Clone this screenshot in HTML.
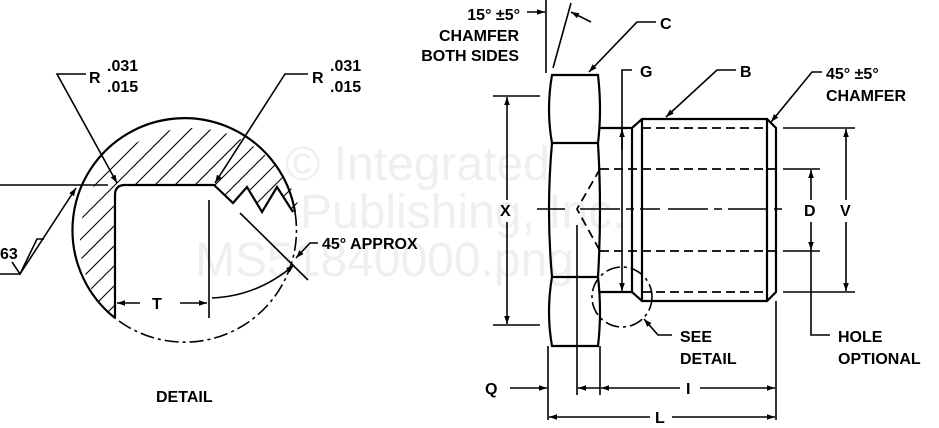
<!DOCTYPE html>
<html><head><meta charset="utf-8"><style>
body{margin:0;background:#fff}
svg{display:block}
text{font-family:"Liberation Sans",sans-serif;font-weight:bold;font-size:16px;fill:#000}
</style></head><body>
<svg width="939" height="428" viewBox="0 0 939 428" xmlns="http://www.w3.org/2000/svg">
<defs>
<marker id="a" viewBox="0 0 10 10" refX="10" refY="5" markerWidth="12" markerHeight="8" markerUnits="userSpaceOnUse" orient="auto"><path d="M0,1.5 L10,5 L0,8.5 z" fill="#000"/></marker>
<clipPath id="cc"><circle cx="192" cy="240" r="112"/></clipPath>
<clipPath id="hc"><path d="M60,120 H330 V212 L293,212 L277,187 L262,212 L247,187 L233,203 L214,185 H125 Q115,185 115,195 V330 H60 Z"/></clipPath>
</defs>
<!-- watermark -->
<text x="285" y="180" style="font-weight:normal;font-size:48px;fill:#efefef">© Integrated</text>
<text x="300" y="228" style="font-weight:normal;font-size:48px;fill:#efefef">Publishing, Inc.</text>
<text x="195" y="276" style="font-weight:normal;font-size:48px;fill:#efefef">MS51840000.png</text>
<g fill="none" stroke="#000" stroke-width="1.6">
<!-- DETAIL -->
<g clip-path="url(#hc)"><g clip-path="url(#cc)" stroke-width="1.1">
<path d="M-160,340 L60,120 M-140,340 L80,120 M-120,340 L100,120 M-100,340 L120,120 M-80,340 L140,120 M-60,340 L160,120 M-40,340 L180,120 M-20,340 L200,120 M0,340 L220,120 M20,340 L240,120 M40,340 L260,120 M60,340 L280,120 M80,340 L300,120 M100,340 L320,120 M120,340 L340,120 M140,340 L360,120 M160,340 L380,120"/>
</g></g>
<path d="M115,318 A112,112 0 1 1 295,212" stroke-width="2.2"/>
<path d="M295,212 A112,112 0 0 1 115,318" stroke-dasharray="14,4,3,4"/>
<path d="M115,318 V195 Q115,185 125,185 H214 L233,203 L247,187 L262,212 L277,187 L293,212" stroke-width="2.2"/>
<path d="M0,185 H108"/>
<path d="M20,274 L76,188" marker-end="url(#a)"/>
<path d="M0,274 H20 M12,262 L20,274 L37,239 H44"/>
<path d="M86,74 H57 L117,183" marker-end="url(#a)"/>
<path d="M308,74 H285 L215,183" marker-end="url(#a)"/>
<path d="M209,200 V318 M240,213 L308,280"/>
<path d="M140,303 H117" marker-end="url(#a)"/>
<path d="M180,303 H207" marker-end="url(#a)"/>
<path d="M212,298 Q258,296 294,265" marker-end="url(#a)"/>
<path d="M318,243 H310 L296,258" marker-end="url(#a)"/>
<!-- HEX -->
<g stroke-width="2.2">
<path d="M552,75 H598 Q602,110 598,143 Q602,210 598,277 Q602,312 598,346 H552 Q546,312 552,277 Q546,210 552,143 Q546,110 552,75 Z"/>
<path d="M552,143 H598 M552,277 H598"/>
<path d="M600,128 H632 M600,292 H632"/>
<path d="M632,128 L642,119 H767 L776,128 V292 L767,301 H642 L632,292 Z M642,119 V301 M767,119 V301"/>
</g>
<g stroke-dasharray="9,5" stroke-width="1.8">
<path d="M642,128 H767 M642,292 H767"/>
<path d="M600,169 H777 M600,251 H777"/>
<path d="M600,169 L577,209 L600,251"/>
</g>
<path d="M537,209 H565 M580,209 H660 M668,209 H785" stroke-dasharray="40,6,8,6"/>
<path d="M577,225 V395 M548,346 V420 M600,346 V395 M776,301 V420"/>
<path d="M493,96 H540 M493,325 H540 M783,128 H855 M783,292 H855 M783,169 H820 M783,251 H820"/>
<path d="M507,200 V97" marker-end="url(#a)"/><path d="M507,222 V324" marker-end="url(#a)"/>
<path d="M846,200 V129" marker-end="url(#a)"/><path d="M846,222 V291" marker-end="url(#a)"/>
<path d="M811,200 V170" marker-end="url(#a)"/><path d="M811,222 V250" marker-end="url(#a)"/>
<path d="M811,250 V335 H830"/>
<path d="M632,70 H622 V128"/><path d="M622,150 V129" marker-end="url(#a)"/><path d="M622,128 V291" marker-end="url(#a)"/>
<path d="M656,22 H637 L589,72" marker-end="url(#a)"/>
<path d="M736,70 H717 L666,117" marker-end="url(#a)"/>
<path d="M822,72 H812 L771,122" marker-end="url(#a)"/>
<path d="M546,0 V73 M553,68 L571,3"/>
<path d="M527,12 H545" marker-end="url(#a)"/>
<path d="M591,22 L571,12" marker-end="url(#a)"/>
<circle cx="622" cy="297" r="30" stroke-dasharray="14,4,3,4"/>
<path d="M672,335 H658 L644,319" marker-end="url(#a)"/>
<path d="M510,388 H547" marker-end="url(#a)"/>
<path d="M600,388 H578" marker-end="url(#a)"/>
<path d="M680,388 H601" marker-end="url(#a)"/>
<path d="M700,388 H775" marker-end="url(#a)"/>
<path d="M650,417 H549" marker-end="url(#a)"/>
<path d="M672,417 H775" marker-end="url(#a)"/>
</g>
<!-- labels -->
<text x="89" y="83">R</text>
<text x="107" y="71">.031</text>
<text x="107" y="92">.015</text>
<text x="312" y="83">R</text>
<text x="330" y="71">.031</text>
<text x="330" y="92">.015</text>
<text x="0" y="259">63</text>
<text x="152" y="309">T</text>
<text x="322" y="249">45° APPROX</text>
<text x="156" y="402">DETAIL</text>
<text x="520" y="20" text-anchor="end">15° ±5°</text>
<text x="519" y="41" text-anchor="end">CHAMFER</text>
<text x="519" y="61" text-anchor="end">BOTH SIDES</text>
<text x="660" y="29">C</text>
<text x="640" y="77">G</text>
<text x="740" y="77">B</text>
<text x="826" y="79">45° ±5°</text>
<text x="826" y="101">CHAMFER</text>
<text x="500" y="216">X</text>
<text x="804" y="216">D</text>
<text x="840" y="216">V</text>
<text x="680" y="342">SEE</text>
<text x="680" y="364">DETAIL</text>
<text x="838" y="342">HOLE</text>
<text x="838" y="364">OPTIONAL</text>
<text x="485" y="394">Q</text>
<text x="686" y="394">I</text>
<text x="655" y="423">L</text>
</svg>
</body></html>
